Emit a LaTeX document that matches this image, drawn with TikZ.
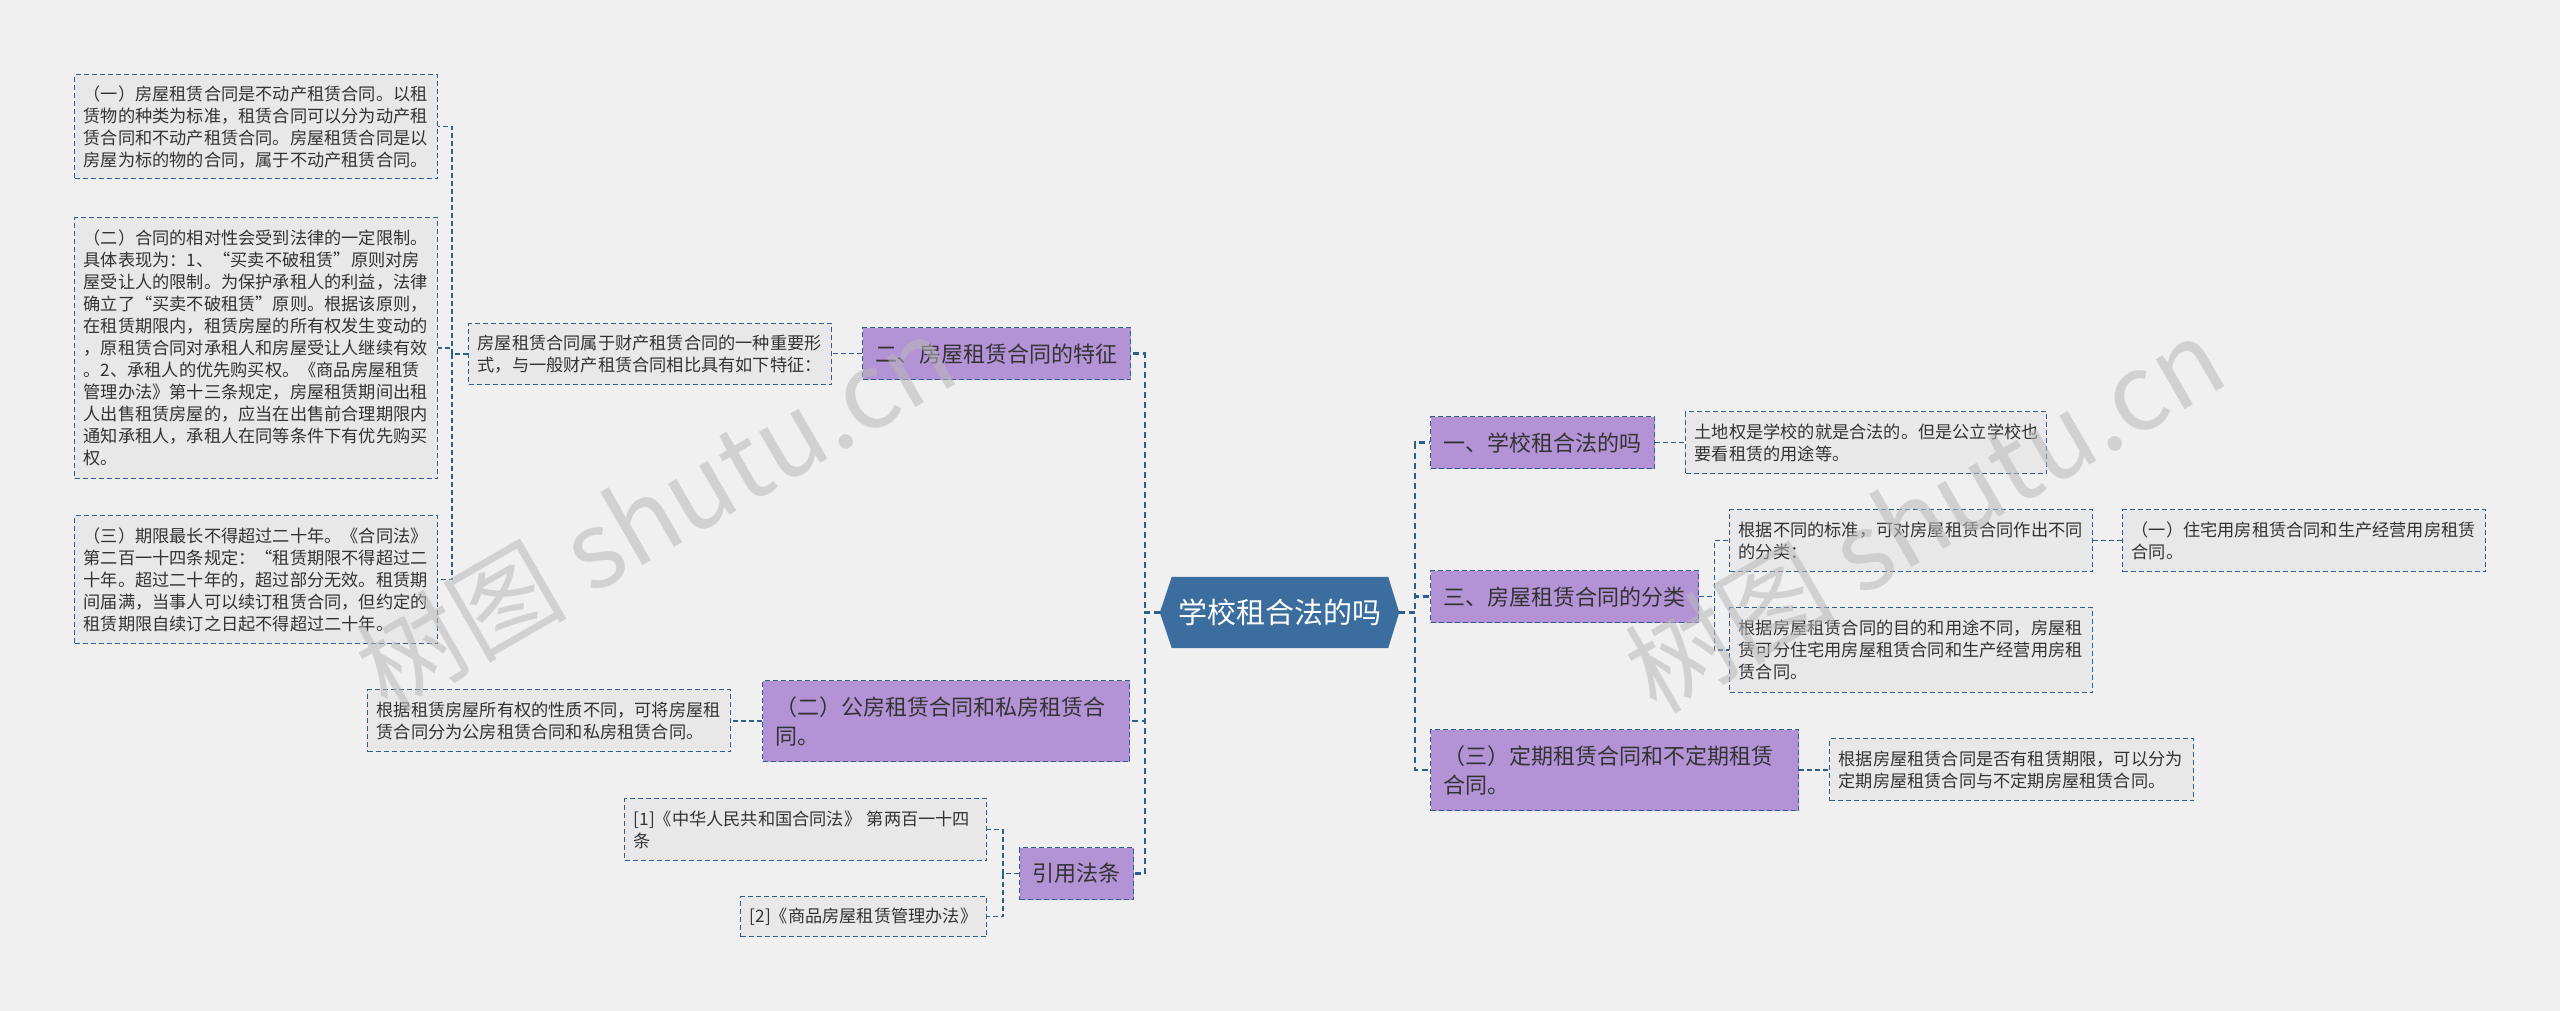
\documentclass[tikz,border=0pt]{standalone}
\usepackage{fontspec}
\setmainfont{Noto Sans CJK SC}
\usetikzlibrary{backgrounds,calc}
\definecolor{bgc}{RGB}{240,240,240}
\definecolor{lnc}{RGB}{46,94,140}
\definecolor{purp}{RGB}{180,146,214}
\definecolor{leaff}{RGB}{232,232,232}
\definecolor{rootf}{RGB}{59,110,158}
\definecolor{txtc}{RGB}{51,51,51}
\definecolor{wmc}{RGB}{185,185,185}
\begin{document}
\begin{tikzpicture}[x=1pt,y=-1pt,
  leafbox/.style={draw=lnc, line width=1.3pt, dash pattern=on 5pt off 3pt, fill=leaff,
    anchor=north west, align=left, inner xsep=9pt, inner ysep=2pt,
    font=\fontsize{17.2}{22}\selectfont, text=txtc},
  topicbox/.style={draw=lnc, line width=1.3pt, dash pattern=on 5pt off 3pt, fill=purp,
    anchor=north west, inner xsep=13pt, inner ysep=2pt,
    font=\fontsize{22}{29}\selectfont, text=txtc},
  link/.style={draw=lnc, line width=1.4pt, dash pattern=on 5pt off 3pt},
  trunk/.style={draw=lnc, line width=2.4pt, dash pattern=on 6pt off 4pt},
  wmark/.style={rotate=30, font=\fontsize{106}{106}\selectfont, text=wmc, opacity=0.55},
]
\useasboundingbox (0,0) rectangle (2560,1011);
\begin{scope}[on background layer]
\fill[bgc] (0,0) rectangle (2560,1011);
\end{scope}

% root
\node[minimum width=239pt, minimum height=71pt, text=white, font=\fontsize{29}{35}\selectfont] (root) at (1279.5,612.5) {学校租合法的吗};
\begin{scope}[on background layer]
\fill[rootf] (root.west) -- ([xshift=12pt]root.north west) -- ([xshift=-11pt]root.north east) -- (root.east) -- ([xshift=-11pt]root.south east) -- ([xshift=12pt]root.south west) -- cycle;
\end{scope}

% left topics
\node[topicbox, minimum width=268pt, minimum height=52pt, align=center] (E) at (862,327) {二、房屋租赁合同的特征};
\node[topicbox, text width=341pt, align=left, minimum height=81pt] (F) at (762,680) {（二）公房租赁合同和私房租赁合\\同。};
\node[topicbox, minimum width=110pt, minimum height=52pt, align=center] (H) at (1019,847) {引用法条};

% left leaves
\node[leafbox, text width=345pt, minimum height=104pt] (A) at (74,74) {（一）房屋租赁合同是不动产租赁合同。以租\\赁物的种类为标准，租赁合同可以分为动产租\\赁合同和不动产租赁合同。房屋租赁合同是以\\房屋为标的物的合同，属于不动产租赁合同。};
\node[leafbox, text width=345pt, minimum height=261pt] (B) at (74,217) {（二）合同的相对性会受到法律的一定限制。\\具体表现为：1、“买卖不破租赁”原则对房\\屋受让人的限制。为保护承租人的利益，法律\\确立了“买卖不破租赁”原则。根据该原则，\\在租赁期限内，租赁房屋的所有权发生变动的\\，原租赁合同对承租人和房屋受让人继续有效\\。2、承租人的优先购买权。《商品房屋租赁\\管理办法》第十三条规定，房屋租赁期间出租\\人出售租赁房屋的，应当在出售前合理期限内\\通知承租人，承租人在同等条件下有优先购买\\权。};
\node[leafbox, text width=345pt, minimum height=128pt] (C) at (74,515) {（三）期限最长不得超过二十年。《合同法》\\第二百一十四条规定：“租赁期限不得超过二\\十年。超过二十年的，超过部分无效。租赁期\\间届满，当事人可以续订租赁合同，但约定的\\租赁期限自续订之日起不得超过二十年。};
\node[leafbox, text width=345pt, minimum height=61pt] (D) at (468,323) {房屋租赁合同属于财产租赁合同的一种重要形\\式，与一般财产租赁合同相比具有如下特征：};
\node[leafbox, text width=345pt, minimum height=62pt] (G) at (367,689) {根据租赁房屋所有权的性质不同，可将房屋租\\赁合同分为公房租赁合同和私房租赁合同。};
\node[leafbox, text width=344pt, minimum height=62pt] (I) at (624,798) {[1]《中华人民共和国合同法》 第两百一十四\\条};
\node[leafbox, text width=228pt, minimum height=40pt] (J) at (740,896) {[2]《商品房屋租赁管理办法》};

% right topics
\node[topicbox, minimum width=222pt, minimum height=52pt, align=center] (K) at (1430,416) {一、学校租合法的吗};
\node[topicbox, minimum width=268pt, minimum height=52pt, align=center] (M) at (1430,570) {三、房屋租赁合同的分类};
\node[topicbox, text width=342pt, align=left, minimum height=81pt] (Q) at (1430,729) {（三）定期租赁合同和不定期租赁\\合同。};

% right leaves
\node[leafbox, text width=343pt, minimum height=62pt] (L) at (1685,411) {土地权是学校的就是合法的。但是公立学校也\\要看租赁的用途等。};
\node[leafbox, text width=345pt, minimum height=62pt] (N) at (1729,509) {根据不同的标准，可对房屋租赁合同作出不同\\的分类：};
\node[leafbox, text width=345pt, minimum height=62pt] (O) at (2122,509) {（一）住宅用房租赁合同和生产经营用房租赁\\合同。};
\node[leafbox, text width=345pt, minimum height=85pt] (P) at (1729,607) {根据房屋租赁合同的目的和用途不同，房屋租\\赁可分住宅用房屋租赁合同和生产经营用房租\\赁合同。};
\node[leafbox, text width=346pt, minimum height=62pt] (R) at (1829,738) {根据房屋租赁合同是否有租赁期限，可以分为\\定期房屋租赁合同与不定期房屋租赁合同。};

% trunks from root
\draw[trunk] (root.west) -- ++(-15,0) |- (E.east);
\draw[trunk] (root.west) -- ++(-15,0) |- (F.east);
\draw[trunk] (root.west) -- ++(-15,0) |- (H.east);
\draw[trunk] (root.east) -- ++(16,0) |- (K.west);
\draw[trunk] (root.east) -- ++(16,0) |- (M.west);
\draw[trunk] (root.east) -- ++(16,0) |- (Q.west);

% left links
\draw[link] (E.west) -- (E.west -| D.east);
\draw[link] (D.west) -- ++(-16,0) |- (A.east);
\draw[link] (D.west) -- ++(-16,0) |- (B.east);
\draw[link] (D.west) -- ++(-16,0) |- (C.east);
\draw[link] (F.west) -- (F.west -| G.east);
\draw[link] (H.west) -- ++(-16,0) |- (I.east);
\draw[link] (H.west) -- ++(-16,0) |- (J.east);

% right links
\draw[link] (K.east) -- (K.east -| L.west);
\draw[link] (M.east) -- ++(15,0) |- (N.west);
\draw[link] (M.east) -- ++(15,0) |- (P.west);
\draw[link] (N.east) -- (N.east -| O.west);
\draw[link] (Q.east) -- (Q.east -| R.west);

% watermarks
\node[wmark] (wm1) at (655,512) {树图 shutu.cn};
\node[wmark] (wm2) at (1924,514) {树图 shutu.cn};
\end{tikzpicture}
\end{document}
